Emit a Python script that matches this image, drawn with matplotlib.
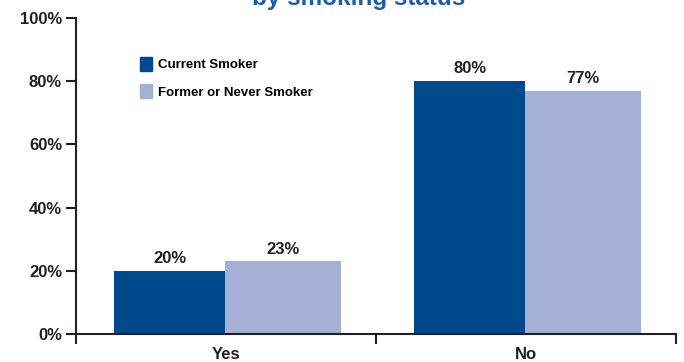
import matplotlib.pyplot as plt
from matplotlib import rcParams
from matplotlib.patches import Patch

rcParams['font.family'] = ['Liberation Sans', 'DejaVu Sans']
rcParams['font.weight'] = 'bold'

# data
categories = ['Yes', 'No']
series_names = ['Current Smoker', 'Former or Never Smoker']
current = [20, 80]
former = [23, 77]
yticks = [0, 20, 40, 60, 80, 100]

dark_blue = '#00498C'
light_blue = '#A4B1D4'
ink = '#231F20'

fig = plt.figure(figsize=(6.84, 3.62), dpi=100)
ax = fig.add_axes([0.111, 0.0773, 0.877, 0.873])

centers = [i + 0.5 for i in range(len(categories))]
cur_x = [c - 0.187 for c in centers]
for_x = [c + 0.19 for c in centers]
ax.bar(cur_x, current, width=0.37, color=dark_blue)
ax.bar(for_x, former, width=0.386, color=light_blue)

for x, v in zip(cur_x, current):
    ax.text(x, v + 1.5, f'{v}%', ha='center', va='bottom',
            fontsize=12, fontweight='bold', color=ink)
for x, v in zip(for_x, former):
    ax.text(x, v + 1.5, f'{v}%', ha='center', va='bottom',
            fontsize=12, fontweight='bold', color=ink)

ax.set_xlim(0, 2)
ax.set_ylim(0, 100)
ax.set_yticks(yticks)
ax.set_yticklabels([f'{t}%' for t in yticks], fontsize=12, fontweight='bold', color=ink)
ax.set_xticks([0, 1, 2])
ax.set_xticklabels([])
ax.set_xticks(centers, minor=True)
ax.set_xticklabels(categories, minor=True, fontsize=12, fontweight='bold', color=ink)
ax.tick_params(axis='x', which='minor', length=0, pad=9)
ax.tick_params(axis='x', which='major', length=7, width=1.5, color=ink)
ax.tick_params(axis='y', length=7, width=1.5, color=ink, pad=3)

for s in ['top', 'right']:
    ax.spines[s].set_visible(False)
for s in ['left', 'bottom']:
    ax.spines[s].set_color(ink)
    ax.spines[s].set_linewidth(1.5)

handles = [Patch(color=dark_blue), Patch(color=light_blue)]
fig.legend(handles, series_names, loc='upper left', bbox_to_anchor=(0.204, 0.843),
           frameon=False, handlelength=0.95, handleheight=1.25,
           handletextpad=0.45, labelspacing=1.0, borderpad=0, borderaxespad=0,
           prop={'weight': 'bold', 'size': 9.5})

# title only partly visible at the top, as in the source image
fig.text(0.524, 1 - 4.5 / 362, 'by smoking status', ha='center', va='baseline',
         fontsize=17.5, fontweight='bold', color='#1F5BA6')

fig.savefig('out.png', dpi=100)
